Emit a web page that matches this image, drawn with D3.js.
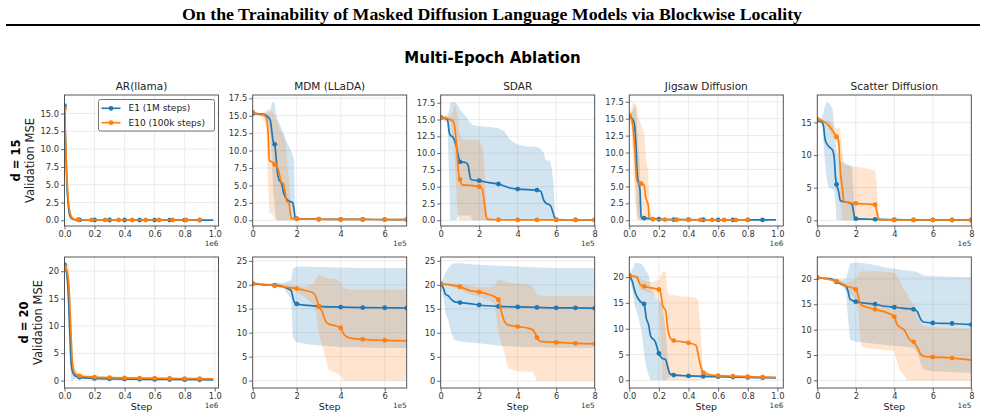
<!DOCTYPE html>
<html>
<head>
<meta charset="utf-8">
<script src="https://cdn.jsdelivr.net/npm/d3@7"></script>
<style>
  body { margin: 0; background: #fff; }
  svg { display: block; font-family: "DejaVu Sans", sans-serif; }
</style>
</head>
<body>
<svg id="chart" width="985" height="418"></svg>
<script>

var panelTitles = ["AR(llama)", "MDM (LLaDA)", "SDAR", "Jigsaw Diffusion", "Scatter Diffusion"],
    rowLabels = ["d = 15", "d = 20"],
    seriesNames = ["E1 (1M steps)", "E10 (100k steps)"],
    seriesColors = ["#1f77b4", "#ff7f0e"],
    xMaxes = [1.025, 7, 8, 1.04, 8],          // step axis limit, in units of xOffsets
    xOffsets = ["1e6", "1e5", "1e5", "1e6", "1e5"],
    xTickVals = [[0, 0.2, 0.4, 0.6, 0.8, 1.0], [0, 2, 4, 6], [0, 2, 4, 6, 8], [0, 0.2, 0.4, 0.6, 0.8, 1.0], [0, 2, 4, 6, 8]],
    yLims = [
        [[-0.8, 17.6], [-0.82, 17.97], [-0.85, 18.65], [-0.85, 18.5], [-0.87, 19.2]],
        [[-1.35, 22.6], [-1.55, 25.8], [-1.5, 25.8], [-1.5, 23.9], [-1.5, 24.3]]
    ],
    yTickVals = [
        [[0, 2.5, 5, 7.5, 10, 12.5, 15], [0, 2.5, 5, 7.5, 10, 12.5, 15, 17.5], [0, 2.5, 5, 7.5, 10, 12.5, 15, 17.5], [0, 2.5, 5, 7.5, 10, 12.5, 15, 17.5], [0, 5, 10, 15]],
        [[0, 5, 10, 15, 20], [0, 5, 10, 15, 20, 25], [0, 5, 10, 15, 20, 25], [0, 5, 10, 15, 20], [0, 5, 10, 15, 20]]
    ];

// rows: [step, mean, lower, upper, marker]

// d = 15
var ar15E1 = [[0,16.1,16.0,16.2,1],[0.008,10.5,9,12],[0.015,5.5,4,7.5],[0.025,2.2,1,3.2],[0.035,0.7,0.2,1.2],[0.05,0.2,0.05,0.35],[0.07,0.08,0.02,0.14],
    [0.1,0.05,0.02,0.08,1],[0.2,0.04,0.02,0.06,1],[0.3,0.04,0.02,0.06,1],[0.4,0.04,0.02,0.06,1],[0.5,0.03,0.01,0.05,1],[0.6,0.03,0.01,0.05,1],
    [0.7,0.03,0.01,0.05,1],[0.8,0.03,0.01,0.05,1],[0.9,0.03,0.01,0.05,1],[0.99,0.03,0.01,0.05]];
var ar15E10 = [[0,15.7,15.5,15.9,1],[0.008,11,9.5,13],[0.015,6.5,4.5,8.5],[0.025,3,1.5,4.5],[0.035,1.2,0.4,2],[0.05,0.35,0.1,0.6],[0.07,0.12,0.04,0.2],
    [0.09,0.08,0.03,0.12,1],[0.18,0.06,0.03,0.1,1],[0.27,0.05,0.02,0.08,1],[0.36,0.05,0.02,0.08,1],[0.45,0.04,0.02,0.07,1],[0.54,0.04,0.02,0.07,1],
    [0.63,0.04,0.02,0.07,1],[0.72,0.04,0.02,0.07,1],[0.81,0.04,0.02,0.07,1],[0.9,0.04,0.02,0.07,1]];

var mdm15E1 = [[0,15.3,15.2,15.4,1],[0.5,15.2,15.0,15.4],[0.7,14.8,14.3,15.5],[0.8,14.3,12,15.8],[0.88,12.5,8,16.9],[0.93,11.3,4,17.0],
    [1.0,10.9,2,16.8,1],[1.05,9.5,0.5,15.5],[1.1,7.6,0,14.8],[1.2,5.8,0,14],[1.3,5.4,0,13.2],[1.4,4.0,0,12.5],[1.55,3.0,0,11.2],[1.7,2.7,0,10.3],
    [1.82,2.5,0,9.3],[1.88,1.5,0,8.5],[1.93,0.4,0,0.8],[2,0.25,0.1,0.4,1],[3,0.15,0.1,0.2,1],[4,0.12,0.08,0.18,1],[5,0.12,0.08,0.16,1],
    [6,0.1,0.07,0.14,1],[7,0.1,0.07,0.14,1]];
var mdm15E10 = [[0,15.5,15.3,15.7,1],[0.3,15.2,15.0,15.4],[0.5,15.1,14.8,15.4],[0.62,14.7,13,15.8],[0.7,12.5,5,16.0],[0.76,8.6,1.0,15.9],
    [0.9,8.3,0.8,15.5],[1.0,8.0,0.3,15,1],[1.05,7.8,0,14.7],[1.15,7.4,0,13.8],[1.25,6,0,13],[1.3,5.5,0,12.6],[1.4,5.2,0,12.3],[1.5,3.5,0,11],
    [1.55,2.7,0,9],[1.65,2.5,0,6],[1.7,1.2,0,3],[1.76,0.3,0,0.6],[2,0.2,0.1,0.3,1],[3,0.15,0.1,0.2,1],[4,0.12,0.08,0.18,1],[5,0.12,0.08,0.16,1],
    [6,0.1,0.07,0.14,1],[7,0.1,0.07,0.14,1]];

var sdar15E1 = [[0,15.3,15.1,15.5,1],[0.35,15.0,14.5,15.6],[0.45,13.0,5,16.5],[0.5,12.7,0,17.5],[0.65,12.3,0,17.6],[0.8,11.2,0,17.5],
    [0.92,9.5,0.7,17],[1.0,8.7,0.7,16.5,1],[1.3,8.6,0.7,15.5],[1.42,8.2,0.7,15],[1.55,6.2,0.7,14.5],[1.65,6.0,0,14.2],[2,5.9,0,14,1],
    [2.5,5.6,0,13.9],[3,5.4,0,13.7,1],[3.3,5.1,0,13.3],[3.6,4.8,0,12],[4,4.65,0,11.3,1],[4.5,4.55,0,11.0],[5,4.5,0,10.9,1],[5.2,4.3,0,10.6],
    [5.35,3.0,0,10],[5.45,2.6,0,9.0],[5.7,2.2,0,8.8],[5.85,1.0,0,6],[5.93,0.3,0,1],[6,0.1,0.02,0.2,1],[7,0.07,0.02,0.12,1],[8,0.05,0.02,0.1,1]];
var sdar15E10 = [[0,15.3,15.1,15.5,1],[0.5,15.0,14.6,15.5],[0.65,14.7,12,16.5],[0.75,13.5,8,17.3],[0.85,10,2,16],[0.95,6.5,0,13.5],
    [1.0,6.1,0,12.8,1],[1.1,5.3,0,12.1],[1.5,5.2,0,12.0],[2,5.0,0,11.9,1],[2.15,4.7,0,11],[2.25,3,0,9],[2.35,0.8,0,3],[2.42,0.15,0,0.4],
    [3,0.08,0.02,0.15,1],[4,0.06,0.02,0.12,1],[5,0.05,0.02,0.1,1],[6,0.05,0.02,0.1,1],[7,0.05,0.02,0.1,1],[8,0.05,0.02,0.1,1]];

var jig15E1 = [[0,15.3,15.0,15.6,1],[0.02,15.0,14.5,16],[0.035,14.2,13,17],[0.045,11,5,16.5],[0.055,6.5,0.5,13],[0.065,5.4,0.2,10],
    [0.072,4.5,0,8],[0.08,0.4,0,1],[0.1,0.3,0.1,0.5,1],[0.2,0.15,0.05,0.25,1],[0.3,0.1,0.04,0.16,1],[0.4,0.08,0.03,0.13,1],[0.5,0.07,0.03,0.11,1],
    [0.6,0.06,0.02,0.1,1],[0.7,0.06,0.02,0.1,1],[0.8,0.05,0.02,0.09,1],[0.9,0.05,0.02,0.09,1],[0.99,0.05,0.02,0.09]];
var jig15E10 = [[0,15.5,15.2,15.8,1],[0.015,15.0,13,16.5],[0.028,13,8,17.5],[0.038,10,3,17.3],[0.05,6,0,17],[0.06,5.5,0,15.5],
    [0.08,5.4,0,14,1],[0.1,5.2,0,13],[0.11,3.5,0,10],[0.12,2.8,0,8],[0.128,2.2,0,7.5],[0.135,0.4,0,1.5],[0.16,0.15,0.05,0.3,1],
    [0.24,0.1,0.04,0.18,1],[0.32,0.08,0.03,0.14,1],[0.4,0.07,0.03,0.12,1],[0.48,0.06,0.02,0.1,1],[0.56,0.06,0.02,0.1,1],[0.64,0.05,0.02,0.09,1],
    [0.72,0.05,0.02,0.09,1],[0.8,0.05,0.02,0.09,1]];

var sca15E1 = [[0,15.3,15.1,15.5,1],[0.25,15.0,14.8,15.8],[0.32,14.5,12,16.5],[0.4,12.5,9,17.5],[0.5,11.7,6,18.2],[0.6,11.3,5,18],
    [0.8,10.7,4.8,17],[0.88,9.5,4.5,14],[0.95,6.5,2,12],[1.0,5.5,0,11,1],[1.1,4.5,0,9.5],[1.2,3.0,0,9],[1.5,2.8,0,8.7],[1.8,2.5,0,8.3],
    [1.9,1.0,0,4],[1.95,0.3,0,0.6],[2,0.25,0.1,0.4,1],[3,0.15,0.1,0.2,1],[4,0.1,0.05,0.15,1],[5,0.08,0.04,0.12,1],[6,0.07,0.03,0.11,1],
    [7,0.06,0.03,0.1,1],[8,0.05,0.02,0.09,1]];
var sca15E10 = [[0,15.5,15.3,15.7,1],[0.4,15.0,14.8,15.3],[0.6,14.5,14,15.2],[0.85,13.5,12.5,14.5],[1.0,12.8,12,14,1],[1.1,12.2,11,14.3],
    [1.15,10,6,14.3],[1.2,7.5,3,13.5],[1.3,5.0,0,11],[1.38,2.9,0,8.5],[1.6,2.75,0,8.3],[2,2.6,0,8.2,1],[2.5,2.5,0,8.0],[3,2.4,0,7.6,1],
    [3.08,1.5,0,6],[3.15,0.5,0,2],[3.25,0.1,0,0.3],[4,0.05,0,0.1,1],[5,0.05,0,0.1,1],[6,0.05,0,0.1,1],[7,0.05,0,0.1,1],[8,0.05,0,0.1,1]];

// d = 20
var ar20E1 = [[0,21.2,21.0,21.4,1],[0.015,19.5,18.5,20.5],[0.025,16,13,19],[0.035,9,4,14],[0.045,3,0,6],[0.055,1.5,0,3],[0.07,0.9,0.3,1.5],
    [0.1,0.6,0.4,0.8,1],[0.2,0.4,0.3,0.5,1],[0.3,0.32,0.24,0.42,1],[0.4,0.28,0.2,0.38,1],[0.5,0.25,0.18,0.34,1],[0.6,0.22,0.16,0.3,1],
    [0.7,0.2,0.14,0.28,1],[0.8,0.18,0.12,0.26,1],[0.9,0.16,0.1,0.24,1],[0.99,0.15,0.1,0.22]];
var ar20E10 = [[0,20.8,20.5,21.2,1],[0.015,20.2,19.5,21.5],[0.03,17,14,21],[0.04,11,7,15],[0.05,4.5,2.5,6.5],[0.06,2,1,3],[0.075,1.2,0.7,1.8],
    [0.1,0.85,0.6,1.2,1],[0.2,0.65,0.45,0.9,1],[0.3,0.55,0.4,0.8,1],[0.4,0.5,0.36,0.72,1],[0.5,0.46,0.33,0.66,1],[0.6,0.43,0.3,0.62,1],
    [0.7,0.4,0.28,0.58,1],[0.8,0.38,0.26,0.55,1],[0.9,0.35,0.25,0.5,1],[0.99,0.33,0.24,0.48]];

var mdm20E1 = [[0,20.2,20.1,20.3,1],[0.5,20.0,19.9,20.2],[1.0,19.9,19.8,20.3,1],[1.4,19.6,19.4,20.4],[1.75,18.8,17,21],[1.82,17.5,9,23.3],
    [1.9,16.3,8.5,23.6],[2,16.0,8.0,23.8,1],[2.5,15.7,7.6,23.8],[3,15.5,7.3,23.7,1],[4,15.35,7.0,23.6,1],[5,15.25,6.9,23.5,1],[6,15.2,6.8,23.5,1],
    [7,15.15,6.8,23.5,1]];
var mdm20E10 = [[0,20.3,20.2,20.5,1],[1.0,19.8,19.6,20.1,1],[1.5,19.5,19.1,20.0],[2,19.2,18.5,19.8,1],[2.4,18.8,17.3,19.6],[2.75,18.3,16,20.2],
    [2.9,17.2,14,21.5],[3,15.5,10,22.1,1],[3.15,14.5,7.5,21.8],[3.3,12.5,5,21.5],[3.45,11.8,2.2,21.3],[3.8,11.4,1.6,21.2],[4,11.0,1,20.5,1],
    [4.1,10.0,0,19.5],[4.25,9.2,0,19.1],[4.5,8.8,0,19.0],[5,8.6,0,19.0,1],[6,8.4,0,19.0,1],[7,8.3,0,19.0]];

var sdar20E1 = [[0,20.2,20.0,20.4,1],[0.15,19.2,17,21.5],[0.25,18.0,14,22.5],[0.4,17.7,12.5,23.5],[0.55,17,10,24.2],[0.7,16.5,8.5,24.5],
    [1,16.3,8.2,24.5,1],[1.5,16.1,8.0,24.3],[2,15.8,7.8,24.2,1],[3,15.5,7.3,24.0,1],[4,15.4,7.1,23.8,1],[5,15.3,7.0,23.6,1],[6,15.2,6.9,23.5,1],
    [7,15.2,6.9,23.5,1],[8,15.1,6.9,23.5,1]];
var sdar20E10 = [[0,20.2,20.0,20.4,1],[0.5,20.0,19.7,20.3],[1,19.6,19.0,20.2,1],[1.5,18.8,18.0,19.8],[2,18.5,17.5,19.5,1],[2.5,18.0,16.8,19.5],
    [2.8,17.5,16,19.8],[3,16.9,10,21.2,1],[3.15,14.5,8,21.0],[3.3,12.5,6,20.8],[3.5,11.6,2.5,20.5],[4,11.3,2.0,20.3,1],[4.5,11.0,1.9,20.1],
    [4.8,10.6,1.8,19.6],[4.95,9.5,0.5,18.5],[5,9.0,0,17.9,1],[5.2,8.2,0,17.7],[6,8.0,0,17.7,1],[7,7.8,0,17.6,1],[8,7.7,0,17.6,1]];

var jig20E1 = [[0,20.3,20.0,20.6,1],[0.02,19.2,17.5,21.5],[0.04,17.0,14,22.8],[0.06,15.8,12.5,22.7],[0.085,15.0,9,22.5],[0.1,14.8,5,22.0,1],
    [0.115,12.0,2.5,21],[0.13,10.8,1,20.5],[0.145,8.5,0,18],[0.175,7.5,0,16],[0.2,5.2,0,15.5,1],[0.22,4.3,0,14.8],[0.245,4.0,0,10],
    [0.26,2.5,0.3,4],[0.275,1.2,0.7,1.7],[0.3,1.0,0.8,1.2,1],[0.4,0.85,0.7,1.0,1],[0.5,0.75,0.6,0.9,1],[0.6,0.7,0.55,0.85,1],[0.7,0.62,0.5,0.76,1],
    [0.8,0.55,0.45,0.68,1],[0.9,0.5,0.4,0.62,1],[0.99,0.48,0.38,0.6]];
var jig20E10 = [[0,20.3,20.1,20.5,1],[0.05,20.0,19.6,20.4],[0.075,18.5,17.5,19.8],[0.1,18.2,17.3,19.3,1],[0.15,17.9,16.8,19.0],[0.2,17.6,15.5,19.5,1],
    [0.215,16.5,5,20.5],[0.225,14.5,0,21.1],[0.245,13.5,0,21.0],[0.26,10,0,17],[0.28,8.0,0,16.5],[0.3,7.7,0,16.5,1],[0.35,7.5,0,16.3],
    [0.4,7.25,0,16.2,1],[0.45,6.8,0,16.0],[0.465,5.0,0,15.5],[0.48,3,0,10],[0.495,1.6,0.5,3],[0.5,1.5,1.0,2.0,1],[0.55,1.0,0.8,1.3],
    [0.6,0.9,0.7,1.1,1],[0.7,0.8,0.62,1.0,1],[0.8,0.7,0.55,0.9,1],[0.9,0.6,0.48,0.78,1],[0.99,0.55,0.44,0.7]];

var sca20E1 = [[0,20.2,20.0,20.4,1],[0.7,20.0,19.8,20.2],[1,19.4,19.2,19.9,1],[1.3,18.9,18.6,19.8],[1.5,18.5,17.5,20],[1.6,17.5,12,21.5],
    [1.7,16.0,8.0,23.0],[2,15.5,7.6,23.2,1],[2.5,15.2,7.4,23.0],[3,15.0,7.2,22.7,1],[3.5,14.6,7.0,22.3],[4,14.4,6.8,22.0,1],[4.5,14.2,6.6,21.7],
    [5,14.0,6.4,21.5,1],[5.2,13.5,5.5,21.3],[5.35,12.2,3.5,21.0],[5.5,11.5,2.2,20.7],[6,11.3,1.8,20.5,1],[7,11.2,1.6,20.4,1],[8,11.0,1.5,20.3,1]];
var sca20E10 = [[0,20.3,20.1,20.5,1],[0.5,20.0,19.8,20.2],[1,19.5,19.2,19.8,1],[1.5,18.6,18.0,19.3],[2,17.9,16.0,20.0,1],[2.1,17.0,15.2,20.8],
    [2.2,15.5,10,21.3],[2.3,14.8,6.6,21.5],[2.5,14.5,6.4,21.5],[3,14.0,6.2,21.5,1],[3.5,13.5,6.0,21.4],[4,12.5,5.8,21.2,1],[4.15,11.0,3.5,20.5],
    [4.3,10.5,2,19.5],[4.5,10.0,1.0,18.0],[4.65,9.0,0,17],[4.8,8.0,0,16],[5,7.6,0,15,1],[5.2,6.5,0,12.5],[5.4,5.0,0,11],[5.6,4.7,0,10.6],
    [6,4.6,0,10.5,1],[7,4.4,0,10.3,1],[8,4.0,0,10.2]];

var runs = [
    [[ar15E1, ar15E10], [mdm15E1, mdm15E10], [sdar15E1, sdar15E10], [jig15E1, jig15E10], [sca15E1, sca15E10]],
    [[ar20E1, ar20E10], [mdm20E1, mdm20E10], [sdar20E1, sdar20E10], [jig20E1, jig20E10], [sca20E1, sca20E10]]
];

// layout
var svg = d3.select('#chart'),
    colLeft = [64.5, 252.7, 440.7, 629.3, 817.3],
    rowTop = [95, 257],
    panelW = 154,
    panelH = 131;

svg.append("rect").attr("width", 985).attr("height", 418).attr("fill", "#fff");

// page header
svg.append("text")
    .attr("x", 492).attr("y", 20)
    .attr("text-anchor", "middle")
    .attr("textLength", 620).attr("lengthAdjust", "spacingAndGlyphs")
    .style("font-family", "'Liberation Serif', 'Times New Roman', serif")
    .style("font-weight", "bold").style("font-size", "16.5px")
    .text("On the Trainability of Masked Diffusion Language Models via Blockwise Locality");

svg.append("line").attr("x1", 6).attr("x2", 980).attr("y1", 25).attr("y2", 25)
    .attr("stroke", "#000").attr("stroke-width", 1.8);

svg.append("text")
    .attr("x", 492.5).attr("y", 62.5)
    .attr("text-anchor", "middle")
    .style("font-weight", "bold").style("font-size", "15px")
    .text("Multi-Epoch Ablation");

function drawPanel(r, c) {

    var g = svg.append("g").attr("transform", "translate(" + colLeft[c] + "," + rowTop[r] + ")"),
        x = d3.scaleLinear().domain([0, xMaxes[c]]).range([0, panelW]),
        y = d3.scaleLinear().domain(yLims[r][c]).range([panelH, 0]);

    //grid
    g.append("g").selectAll("line").data(xTickVals[c]).join("line")
        .attr("x1", function(d) { return x(d); }).attr("x2", function(d) { return x(d); })
        .attr("y1", 0).attr("y2", panelH)
        .attr("stroke", "#e6e6e6").attr("stroke-width", 0.8);
    g.append("g").selectAll("line").data(yTickVals[r][c]).join("line")
        .attr("y1", function(d) { return y(d); }).attr("y2", function(d) { return y(d); })
        .attr("x1", 0).attr("x2", panelW)
        .attr("stroke", "#e6e6e6").attr("stroke-width", 0.8);

    var clipId = "clip" + r + c;
    g.append("clipPath").attr("id", clipId).append("rect").attr("width", panelW).attr("height", panelH);
    var plot = g.append("g").attr("clip-path", "url(#" + clipId + ")");

    var area = d3.area()
            .x(function(d) { return x(d[0]); })
            .y0(function(d) { return y(d[2]); })
            .y1(function(d) { return y(d[3]); }),
        line = d3.line()
            .x(function(d) { return x(d[0]); })
            .y(function(d) { return y(d[1]); })
            .curve(d3.curveMonotoneX);

    var pair = runs[r][c];

    pair.forEach(function(s, i) {
        plot.append("path").datum(s).attr("d", area)
            .attr("fill", seriesColors[i]).attr("fill-opacity", 0.2);
    });

    pair.forEach(function(s, i) {
        plot.append("path").datum(s).attr("d", line)
            .attr("fill", "none").attr("stroke", seriesColors[i]).attr("stroke-width", 1.7);
        plot.append("g").selectAll("circle").data(s.filter(function(d) { return d[4]; })).join("circle")
            .attr("cx", function(d) { return x(d[0]); })
            .attr("cy", function(d) { return y(d[1]); })
            .attr("r", 2.4)
            .attr("fill", seriesColors[i]);
    });

    // axes
    var xFmt = (c == 0 || c == 3) ? d3.format(".1f") : d3.format("d"),
        yFmt = (r == 0 && c < 4) ? d3.format(".1f") : d3.format("d");

    var xa = g.append("g").attr("transform", "translate(0," + panelH + ")")
        .call(d3.axisBottom(x).tickValues(xTickVals[c]).tickFormat(xFmt).tickSize(3.5).tickPadding(2));
    var ya = g.append("g")
        .call(d3.axisLeft(y).tickValues(yTickVals[r][c]).tickFormat(yFmt).tickSize(3.5).tickPadding(2));

    [xa, ya].forEach(function(a) {
        a.select(".domain").remove();
        a.selectAll(".tick line").attr("stroke", "#444").attr("stroke-width", 0.8);
        a.selectAll(".tick text").attr("fill", "#333").style("font-size", "8.3px").style("font-family", "'DejaVu Sans', sans-serif");
    });

    g.append("rect").attr("width", panelW).attr("height", panelH)
        .attr("fill", "none").attr("stroke", "#444").attr("stroke-width", 0.9);

    // offset text 1e5 / 1e6
    g.append("text").attr("x", panelW).attr("y", panelH + 19.5)
        .attr("text-anchor", "end").attr("fill", "#333").style("font-size", "7.3px")
        .text(xOffsets[c]);

    if (r == 0) {
        g.append("text").attr("x", panelW / 2).attr("y", -5)
            .attr("text-anchor", "middle").attr("fill", "#222").style("font-size", "10.5px")
            .text(panelTitles[c]);
    }

    if (r == 1) {
        g.append("text").attr("x", panelW / 2).attr("y", panelH + 22)
            .attr("text-anchor", "middle").attr("fill", "#222").style("font-size", "9.5px")
            .text("Step");
    }

    if (c == 0) {
        var lx = r == 0 ? [16, 30] : [23.5, 37.5],
            cy = rowTop[r] + panelH / 2;
        svg.append("text")
            .attr("transform", "translate(" + lx[0] + "," + cy + ") rotate(-90)")
            .attr("text-anchor", "middle").attr("dy", "0.35em")
            .style("font-weight", "bold").style("font-size", "11.5px")
            .text(rowLabels[r]);
        svg.append("text")
            .attr("transform", "translate(" + lx[1] + "," + cy + ") rotate(-90)")
            .attr("text-anchor", "middle").attr("dy", "0.35em")
            .attr("fill", "#222").style("font-size", "11.5px")
            .text("Validation MSE");
    }

    if (r == 0 && c == 0) {
        var leg = g.append("g").attr("transform", "translate(34,4.5)");
        leg.append("rect").attr("width", 116).attr("height", 31.5).attr("rx", 2)
            .attr("fill", "#fff").attr("stroke", "#555").attr("stroke-width", 0.8);
        seriesNames.forEach(function(name, i) {
            var ly = 8.8 + i * 14.4;
            leg.append("line").attr("x1", 3).attr("x2", 22).attr("y1", ly).attr("y2", ly)
                .attr("stroke", seriesColors[i]).attr("stroke-width", 1.6);
            leg.append("circle").attr("cx", 12.5).attr("cy", ly).attr("r", 2.4).attr("fill", seriesColors[i]);
            leg.append("text").attr("x", 30).attr("y", ly).attr("dy", "0.35em")
                .attr("fill", "#222").style("font-size", "9px")
                .text(name);
        });
    }
}

for (var r = 0; r < 2; r++) {
    for (var c = 0; c < 5; c++) {
        drawPanel(r, c);
    }
}

</script>
</body>
</html>
